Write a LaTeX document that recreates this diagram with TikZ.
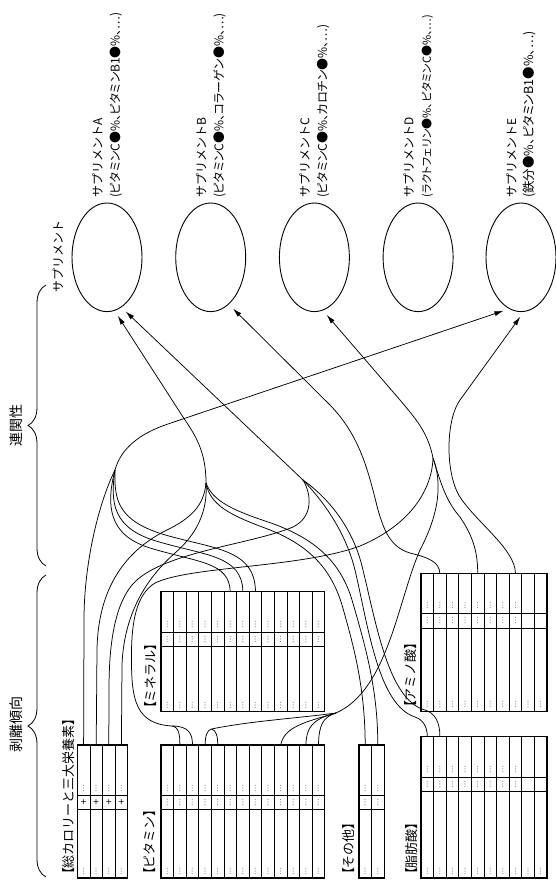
\documentclass[tikz,border=0pt]{standalone}
\usepackage{fontspec}
\setmainfont{Noto Sans CJK JP}
\newfontfamily\pfont{Noto Sans CJK JP}[RawFeature={+palt}]
\newfontfamily\dvs{DejaVu Sans}
\newcommand\lbr{{\pfont 【}}
\newcommand\rbr{{\pfont 】}}
\usetikzlibrary{shapes.geometric,arrows.meta,decorations.pathreplacing}
\tikzset{
  conn/.style={line width=0.75pt},
  arr/.style={conn,-{Latex[length=9pt,width=5pt]},shorten >=6pt},
  tabin/.style={line width=0.8pt},
  tabout/.style={line width=1.2pt},
  mk/.style={rotate=90,inner sep=0pt,text=black!55,font=\dvs\fontsize{8}{8}\selectfont},
  supp/.style={ellipse,draw,line width=0.9pt,minimum width=70pt,minimum height=108.6pt,inner sep=0pt},
  stxt/.style={rotate=90,anchor=west,align=left,inner sep=0pt,font=\fontsize{12}{17.5}\selectfont},
  lab/.style={rotate=90,anchor=west,inner sep=0pt,font=\fontsize{13}{13}\selectfont},
  brlab/.style={rotate=90,inner sep=0pt,font=\fontsize{14}{14}\selectfont},
  brc/.style={decorate,decoration={brace,amplitude=18pt},line width=0.8pt},
}
% #1 prefix, #2 x0, #3 ncols, #4 top, #5 h1, #6 h2, #7 bottom, #8 cols with upper marks, #9 band mark
\newcommand\drawtab[9]{%
  \pgfmathsetmacro\tabR{#2+12.6*#3}%
  \foreach \i in {1,...,#3}{%
    \pgfmathsetmacro\cxx{#2+12.6*(\i-0.5)}%
    \coordinate (#1\i) at (\cxx,#4);%
    \ifnum\i<#3 \draw[tabin] ({#2+12.6*\i},#4) -- ({#2+12.6*\i},#7);\fi
    \ifnum\i>#8\relax\else
      \node[mk] at (\cxx,{#5-7.5}) {…};
      \node[mk] at (\cxx,{(#5+#6)/2}) {#9};
    \fi
    \node[mk] at (\cxx,{#7-6.5}) {…};
  }%
  \draw[tabin] (#2,#5) -- (\tabR,#5) (#2,#6) -- (\tabR,#6);
  \draw[tabout] (#2,#4) rectangle (\tabR,#7);
}
\begin{document}
\begin{tikzpicture}[x=1pt,y=-1pt]
\useasboundingbox (0,0) rectangle (556,881);

% supplements
\node[supp] (A) at (107,257.3) {};
\node[supp] (B) at (210.7,257.3) {};
\node[supp] (C) at (314.4,257.3) {};
\node[supp] (D) at (418.1,257.3) {};
\node[supp] (E) at (521,257.3) {};
\node[stxt] (tA) at (107,198) {サプリメントA\\{\pfont (ピタミンC●\%、ピタミンB1●\%、…)}};
\node[stxt] (tB) at (210.7,198) {サプリメントB\\{\pfont (ピタミンC●\%、コラーゲン●\%、…)}};
\node[stxt] (tC) at (314.4,198) {サプリメントC\\{\pfont (ピタミンC●\%、カロチン●\%、…)}};
\node[stxt] (tD) at (418.1,198) {サプリメントD\\{\pfont\fontsize{11}{17.5}\selectfont (ラクトフェリン●\%、ピタミンC●\%、…)}};
\node[stxt] (tE) at (521,198) {サプリメントE\\{\pfont\fontsize{12.5}{17.5}\selectfont (鉄分●\%、ピタミンB1●\%、…)}};

% braces and side labels
\node[rotate=90,anchor=west,inner sep=0pt,font=\fontsize{12}{12}\selectfont] (tS) at (58,293) {サプリメント};
\draw[brc] (46,566) -- (46,285);
\draw[brc] (46,877) -- (46,575);
\node[brlab] (t1) at (16,425) {連関性};
\node[brlab] (t2) at (16,724) {剥離傾向};

% tables
\drawtab{K}{77.3}{4}{745}{795.5}{809.3}{878}{4}{\textcolor{black}{+}}
\drawtab{V}{161}{13}{745}{795.5}{809.3}{878}{13}{…}
\drawtab{O}{358.9}{2}{745}{795.5}{809.3}{878}{2}{…}
\drawtab{M}{161}{13}{591.7}{632.3}{646.7}{711.7}{13}{…}
\drawtab{F}{421}{10}{736.7}{777}{791}{878}{8}{…}
\drawtab{AM}{421}{10}{573.3}{613.3}{628.3}{711.3}{8}{…}

\node[lab] (lK) at (69,875) {\lbr 総カロリーと三大栄養素\rbr};
\node[lab] (lV) at (150,875) {\lbr ピタミン\rbr};
\node[lab] (lM) at (151,709) {\lbr ミネラル\rbr};
\node[lab] (lO) at (349,875) {\lbr その他\rbr};
\node[lab] (lF) at (412,875) {\lbr 脂肪酸\rbr};
\node[lab] (lAM) at (411,708) {\lbr アミノ酸\rbr};

% bundle points
\coordinate (P1) at (206,483);
\coordinate (P2) at (115,470);
\coordinate (P3) at (303,480);
\coordinate (P4) at (433,458);
\coordinate (P5) at (336,713);
\coordinate (S12) at (172,726);
\coordinate (S34) at (211.5,729);

% arrows
\draw[arr] (P1) .. controls (206,452) and (196,436) .. (183,417) -- (A.-82);
\draw[arr] (P3) -- (A.-74);
\draw[arr] (AM2) .. controls (439,562) and (430,558) .. (410,553) .. controls (390,547) and (384,530) .. (378,510) .. controls (368,470) and (360,436) .. (330,405) -- (B.-69);
\draw[arr] (P4) .. controls (428,432) and (415,418) .. (400,400) -- (C.-81);
\draw[arr] (P2) .. controls (121,448) and (140,434) .. (165,425) -- (E.-103);
\draw[arr] (AM8) .. controls (515,550) and (480,525) .. (462,500) .. controls (445,478) and (445,421) .. (460,400) -- (E.-87);

% from P2
\draw[conn] (P2) .. controls (100,500) and (84,560) .. (84,620) -- (K1);
\draw[conn] (P2) .. controls (106,505) and (108,535) .. (150,548) .. controls (200,563) and (229,562) .. (M6);
\draw[conn] (P2) .. controls (110,503) and (113,528) .. (156,541) .. controls (206,556) and (242,555) .. (M7);
\draw[conn] (P2) .. controls (114,500) and (118,520) .. (162,534) .. controls (212,549) and (255,548) .. (M8);

% from P1
\draw[conn] (P1) .. controls (204,505) and (192,518) .. (165,531) .. controls (128,550) and (98,585) .. (97,650) -- (K2);
\draw[conn] (P1) .. controls (208,512) and (196,535) .. (175,553) .. controls (150,575) and (124,610) .. (122,665) -- (K4);
\draw[conn] (P1) .. controls (210,505) and (230,515) .. (265,528) .. controls (305,543) and (330,565) .. (342,605) .. controls (355,650) and (365,690) .. (O1);
\draw[conn] (P1) .. controls (213,502) and (235,511) .. (271,523) .. controls (313,538) and (340,560) .. (352,600) .. controls (366,648) and (377.8,690) .. (O2);

% from P3
\draw[conn] (P3) .. controls (312,495) and (313,517) .. (293,527) .. controls (250,545) and (160,552) .. (132,585) .. controls (113,608) and (109,650) .. (109,690) -- (K3);
\draw[conn] (P3) .. controls (322,500) and (345,530) .. (355,570) .. controls (368,625) and (378,705) .. (415,717) .. controls (424,720) and (427.3,728) .. (F1);
\draw[conn] (P3) .. controls (327,497) and (352,526) .. (362,566) .. controls (376,622) and (388,700) .. (425,710) .. controls (435,713) and (439.9,722) .. (F2);

% from P4
\draw[conn] (P4) .. controls (432,490) and (410,525) .. (360,546) .. controls (300,568) and (190,566) .. (155,583) .. controls (137,594) and (131,620) .. (131.5,660) .. controls (131.5,700) and (136,724) .. (S12);
\draw[conn] (S12) .. controls (179,727) and (179.9,735) .. (V2);
\draw[conn] (S12) .. controls (188,726) and (192.6,733) .. (V3);
\draw[conn] (P4) .. controls (440,480) and (445,500) .. (460,517) .. controls (472,535) and (477.7,550) .. (AM5);
\draw[conn] (P4) .. controls (442,482) and (440,512) .. (420,550) .. controls (398,600) and (388,690) .. (P5);
\draw[conn] (P5) .. controls (323,717) and (318.8,725) .. (V13);
\draw[conn] (P5) .. controls (312,719) and (306.2,728) .. (V12);
\draw[conn] (P5) .. controls (305,722) and (284,727) .. (V10);
\draw[conn] (P5) .. controls (300,718) and (250,721) .. (S34);
\draw[conn] (S34) .. controls (207,730) and (205.2,736) .. (V4);
\draw[conn] (S34) .. controls (216,730) and (217.8,736) .. (V5);
\end{tikzpicture}
\end{document}
